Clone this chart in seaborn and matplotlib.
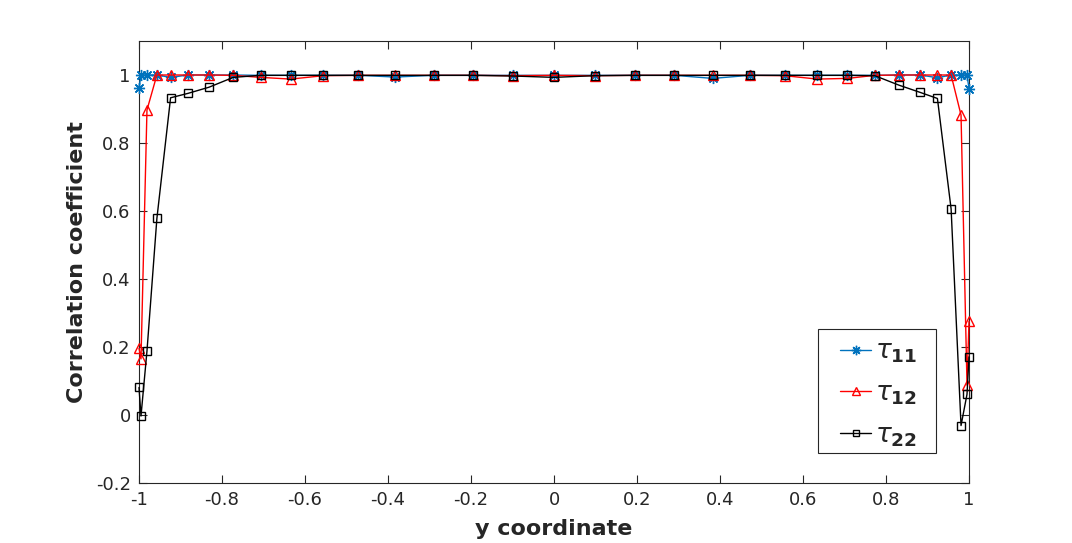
import numpy as np
import pandas as pd
import matplotlib
matplotlib.use("Agg")
import matplotlib.pyplot as plt
from matplotlib.patches import Rectangle
import seaborn as sns

# ---- data ----
y_coord = [-1.0, -0.9952, -0.9808, -0.9569, -0.9239, -0.8819, -0.8315, -0.7730,
           -0.7071, -0.6344, -0.5556, -0.4714, -0.3827, -0.2903, -0.1951, -0.0980,
           0.0, 0.0980, 0.1951, 0.2903, 0.3827, 0.4714, 0.5556, 0.6344,
           0.7071, 0.7730, 0.8315, 0.8819, 0.9239, 0.9569, 0.9808, 0.9952, 1.0]

tau11 = [0.961, 1.0, 1.0, 1.0, 0.993, 1.0, 1.0, 1.0,
         0.999, 0.999, 0.999, 0.999, 0.994, 0.999, 0.999, 0.999,
         0.999, 0.999, 0.999, 0.999, 0.990, 0.999, 0.999, 0.999,
         0.999, 0.999, 1.0, 1.0, 0.992, 1.0, 1.0, 1.0, 0.960]

tau12 = [0.196, 0.165, 0.897, 1.0, 1.0, 1.0, 1.0, 0.999,
         0.993, 0.988, 0.998, 0.999, 0.999, 0.999, 0.999, 0.998,
         0.999, 0.998, 0.999, 0.999, 0.999, 0.999, 0.998, 0.988,
         0.990, 0.999, 1.0, 1.0, 1.0, 1.0, 0.882, 0.088, 0.276]

tau22 = [0.081, -0.003, 0.188, 0.578, 0.933, 0.946, 0.964, 0.993,
         0.999, 0.999, 0.999, 0.999, 0.999, 0.999, 0.999, 0.997,
         0.993, 0.998, 0.999, 0.999, 0.999, 0.999, 0.999, 0.999,
         0.999, 0.998, 0.970, 0.949, 0.931, 0.606, -0.031, 0.061, 0.171]

series_labels = [r'$\tau_{\mathbf{11}}$', r'$\tau_{\mathbf{12}}$', r'$\tau_{\mathbf{22}}$']
x_ticks = [-1, -0.8, -0.6, -0.4, -0.2, 0, 0.2, 0.4, 0.6, 0.8, 1]
x_ticklabels = ['-1', '-0.8', '-0.6', '-0.4', '-0.2', '0', '0.2', '0.4', '0.6', '0.8', '1']
y_ticks = [-0.2, 0, 0.2, 0.4, 0.6, 0.8, 1]
y_ticklabels = ['-0.2', '0', '0.2', '0.4', '0.6', '0.8', '1']

# ---- style ----
sns.set_theme(style="white")
plt.rcParams['font.family'] = ['DejaVu Sans']
plt.rcParams['mathtext.fontset'] = 'dejavusans'

fig = plt.figure(figsize=(10.72, 5.43), dpi=100)
fig.patch.set_facecolor('white')
ax = fig.add_axes([139/1072, 60/543, 830/1072, 442/543])

df = pd.DataFrame({'y': y_coord, 't11': tau11, 't12': tau12, 't22': tau22})

styles = [
    ('t11', '#0072BD', (8, 2, 0), 8, series_labels[0]),
    ('t12', '#FF0000', '^', 7, series_labels[1]),
    ('t22', '#000000', 's', 5.5, series_labels[2]),
]
for col, color, mk, ms, lab in styles:
    sns.lineplot(data=df, x='y', y=col, ax=ax, sort=False, color=color,
                 marker=mk, markersize=ms, markerfacecolor='none',
                 markeredgecolor=color, markeredgewidth=1.0, linewidth=1.0,
                 label=lab, estimator=None, clip_on=False)

ax.set_xlim(-1, 1)
ax.set_ylim(-0.2, 1.1)
ax.set_xticks(x_ticks)
ax.set_xticklabels(x_ticklabels)
ax.set_yticks(y_ticks)
ax.set_yticklabels(y_ticklabels)

axcol = '#262626'
for s in ax.spines.values():
    s.set_visible(True)
    s.set_color(axcol)
    s.set_linewidth(0.8)
    s.set_zorder(0.5)
ax.tick_params(direction='in', length=6, width=0.8, colors=axcol,
               labelsize=13, top=True, right=True, bottom=True, left=True,
               pad=6)
for t in ax.get_xticklabels() + ax.get_yticklabels():
    t.set_color(axcol)

ax.set_xlabel('y coordinate', fontsize=16, fontweight='bold', color=axcol, labelpad=7)
ax.set_ylabel('Correlation coefficient', fontsize=16, fontweight='bold', color=axcol, labelpad=6)

# legend box (MATLAB-like, wider side padding)
box = Rectangle((0.818, 0.068), 0.1422, 0.2805, transform=ax.transAxes,
                facecolor='white', edgecolor=axcol, linewidth=0.8, zorder=4)
ax.add_patch(box)

leg = ax.legend(loc='upper left', bbox_to_anchor=(0.845, 0.326), fontsize=19,
                frameon=False, handlelength=1.15, handletextpad=0.15,
                labelspacing=0.58, borderpad=0, borderaxespad=0)
for line in leg.get_lines():
    line.set_markersize(line.get_markersize() * 0.85)
leg.set_zorder(5)

fig.savefig('out.png', dpi=100, facecolor='white')
